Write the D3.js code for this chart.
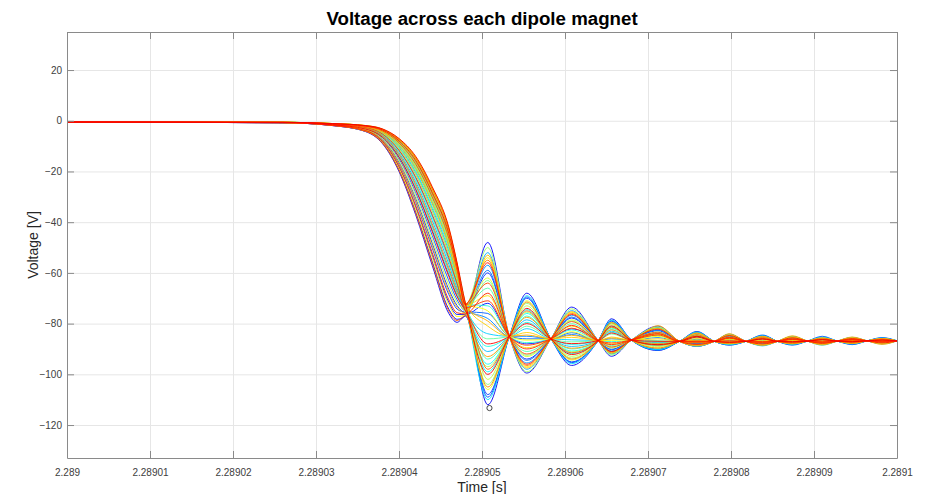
<!DOCTYPE html>
<html>
<head>
<meta charset="utf-8">
<title>Voltage across each dipole magnet</title>
<script src="https://d3js.org/d3.v7.min.js"></script>
<style>
  body { margin: 0; background: #fff; }
  svg { display: block; font-family: "Liberation Sans", Arial, sans-serif; }
</style>
</head>
<body>
<script>
// time is kept in microseconds after t = 2.289 s
const tickTimes = [0, 10, 20, 30, 40, 50, 60, 70, 80, 90, 100];
const tickLabels = ["2.289", "2.28901", "2.28902", "2.28903", "2.28904", "2.28905",
                    "2.28906", "2.28907", "2.28908", "2.28909", "2.2891"];
const voltTicks = [-120, -100, -80, -60, -40, -20, 0, 20];

const startValue = -0.5;   // V at t = 0

// magnet number of each trace (sets its colour)
const magnetIndex = [1, 30, 2, 5, 41, 26, 4, 43, 7, 36, 22, 19, 11, 13, 40, 15, 10, 12, 34, 14,
                     20, 16, 24, 21, 18, 23, 27, 32, 37, 44, 38, 3, 33, 6, 9, 8, 28, 17, 31, 39,
                     35, 42, 25, 29];

// drop phase: sample times and one row of voltages per trace
const dropTimes = [26, 32, 36, 38, 40, 42, 44, 46, 47, 48];
const dropValues = [
  [-0.8, -1.9, -4.3, -9.0, -20.0, -37.0, -57.0, -76.0, -79.5, -77.0],
  [-0.8, -1.8, -4.1, -8.4, -18.7, -34.7, -53.9, -72.6, -77.2, -76.5],
  [-0.8, -1.9, -4.2, -8.7, -19.4, -35.9, -55.5, -74.3, -78.3, -76.8],
  [-0.8, -1.7, -3.8, -7.7, -17.1, -31.9, -50.2, -68.5, -74.3, -75.9],
  [-0.8, -1.8, -3.9, -8.1, -17.9, -33.3, -52.0, -70.6, -75.7, -76.2],
  [-0.7, -1.6, -3.5, -7.1, -15.7, -29.4, -46.8, -64.8, -71.7, -75.4],
  [-0.7, -1.7, -3.6, -7.4, -16.4, -30.6, -48.3, -66.5, -72.9, -75.6],
  [-0.7, -1.6, -3.3, -6.5, -14.4, -27.1, -43.7, -61.4, -69.4, -74.9],
  [-0.7, -1.6, -3.4, -6.8, -15.1, -28.3, -45.2, -63.1, -70.6, -75.1],
  [-0.7, -1.5, -3.0, -5.9, -13.1, -24.8, -40.6, -58.0, -67.0, -74.4],
  [-0.7, -1.5, -3.1, -6.2, -13.8, -26.0, -42.1, -59.7, -68.2, -74.6],
  [-0.7, -1.4, -2.8, -5.5, -12.1, -23.0, -38.1, -55.3, -65.2, -74.0],
  [-0.7, -1.4, -2.9, -5.7, -12.6, -23.9, -39.3, -56.6, -66.1, -74.2],
  [-0.7, -1.3, -2.6, -5.0, -11.0, -21.1, -35.6, -52.5, -63.3, -73.6],
  [-0.7, -1.4, -2.7, -5.2, -11.6, -22.1, -36.9, -53.9, -64.2, -73.8],
  [-0.6, -1.3, -2.5, -4.7, -10.3, -19.8, -33.8, -50.5, -61.9, -73.3],
  [-0.7, -1.3, -2.6, -4.8, -10.6, -20.4, -34.7, -51.5, -62.6, -73.4],
  [-0.6, -1.3, -2.4, -4.3, -9.5, -18.4, -31.9, -48.5, -60.5, -73.0],
  [-0.6, -1.3, -2.4, -4.5, -9.9, -19.1, -32.8, -49.5, -61.2, -73.1],
  [-0.6, -1.2, -2.2, -4.0, -8.8, -17.2, -30.3, -46.8, -59.3, -72.7],
  [-0.6, -1.2, -2.3, -4.1, -9.1, -17.7, -31.0, -47.4, -59.8, -72.8],
  [-0.6, -1.2, -2.1, -3.8, -8.3, -16.3, -29.1, -45.4, -58.4, -72.5],
  [-0.6, -1.2, -2.2, -3.9, -8.6, -16.8, -29.7, -46.1, -58.8, -72.6],
  [-0.6, -1.1, -2.0, -3.5, -7.8, -15.4, -27.9, -44.0, -57.4, -72.3],
  [-0.6, -1.2, -2.1, -3.7, -8.0, -15.8, -28.5, -44.7, -57.9, -72.4],
  [-0.6, -1.1, -2.0, -3.4, -7.5, -14.9, -27.2, -43.4, -56.9, -72.2],
  [-0.6, -1.1, -2.0, -3.5, -7.7, -15.2, -27.6, -43.7, -57.2, -72.3],
  [-0.6, -1.1, -1.9, -3.3, -7.3, -14.5, -26.6, -42.7, -56.5, -72.1],
  [-0.6, -1.1, -2.0, -3.4, -7.4, -14.7, -26.9, -43.0, -56.7, -72.2],
  [-0.6, -1.1, -1.9, -3.2, -7.0, -14.0, -26.0, -42.0, -56.0, -72.0],
  [-0.8, -1.9, -4.2, -8.8, -19.6, -36.3, -56.1, -75.0, -78.8, -76.9],
  [-0.8, -1.8, -4.0, -8.2, -18.3, -34.0, -53.0, -71.6, -76.4, -76.4],
  [-0.7, -1.7, -3.7, -7.6, -16.8, -31.3, -49.3, -67.5, -73.6, -75.8],
  [-0.7, -1.5, -3.2, -6.4, -14.2, -26.7, -43.1, -60.7, -68.9, -74.8],
  [-0.7, -1.5, -3.1, -6.1, -13.5, -25.5, -41.5, -59.0, -67.8, -74.5],
  [-0.7, -1.4, -2.8, -5.3, -11.8, -22.5, -37.5, -54.6, -64.7, -73.9],
  [-0.7, -1.3, -2.6, -4.9, -10.9, -20.9, -35.3, -52.2, -63.1, -73.5],
  [-0.6, -1.3, -2.4, -4.4, -9.6, -18.6, -32.2, -48.8, -60.7, -73.0],
  [-0.6, -1.2, -2.3, -4.2, -9.2, -17.9, -31.3, -47.8, -60.0, -72.9],
  [-0.6, -1.2, -2.2, -4.0, -8.7, -17.0, -30.0, -46.4, -59.1, -72.7],
  [-0.6, -1.2, -2.1, -3.7, -8.2, -16.1, -28.8, -45.1, -58.1, -72.5],
  [-0.6, -1.2, -2.1, -3.6, -7.9, -15.6, -28.2, -44.4, -57.6, -72.4],
  [-0.6, -1.1, -2.0, -3.4, -7.4, -14.7, -26.9, -43.0, -56.7, -72.2],
  [-0.6, -1.1, -1.9, -3.3, -7.1, -14.2, -26.3, -42.3, -56.2, -72.1]
];

// ringing: the extremes of each trace and the crossing points they share
const swingTimes = [50.7, 55.4, 60.8, 65.6, 71.2, 75.9, 79.8, 83.8, 87.4, 91.0, 94.6, 98.2];
const nodeTimes  = [53.3, 58.3, 64.0, 68.0, 73.8, 78.0, 81.8, 85.6, 89.2, 92.8, 96.4, 100];
const nodeValues = [-85.0, -86.0, -86.7, -86.5, -87.0, -87.0, -87.0, -87.0, -86.9, -86.9, -86.8, -86.8];
const swingValues = [
  [-112, -68.0, -96.5, -78.1, -90.6, -83.1, -88.4, -84.7, -88.3, -85.4, -88.1, -85.7],
  [-54, -97.0, -75.6, -91.5, -81.9, -88.3, -84.6, -88.2, -85.4, -88.0, -85.8, -87.7],
  [-48, -99.5, -73.5, -92.9, -81.0, -88.9, -84.2, -88.5, -85.1, -88.2, -85.5, -87.9],
  [-108, -70.0, -95.1, -79.1, -90.0, -83.5, -88.1, -84.9, -88.1, -85.5, -87.9, -85.8],
  [-68, -90.0, -80.7, -88.3, -84.0, -87.1, -85.5, -87.3, -86.1, -87.3, -86.3, -87.2],
  [-102, -73.0, -92.9, -80.4, -89.1, -84.0, -87.7, -85.3, -87.8, -85.8, -87.7, -86.0],
  [-60, -94.0, -77.8, -90.1, -82.8, -87.8, -85.0, -87.8, -85.7, -87.7, -86.0, -87.5],
  [-88, -80.0, -87.9, -83.7, -87.0, -85.3, -86.8, -86.1, -87.1, -86.4, -87.1, -86.5],
  [-76, -86.0, -83.6, -79.5, -90.5, -83.5, -88.5, -84.5, -88.5, -85.0, -88.3, -85.5],
  [-105, -71.5, -94.0, -79.7, -89.6, -83.8, -87.9, -85.1, -87.9, -85.7, -87.8, -85.9],
  [-63, -92.5, -78.9, -89.4, -83.3, -87.5, -85.2, -87.6, -85.9, -87.6, -86.1, -87.4],
  [-94, -77.0, -90.0, -82.3, -87.9, -84.7, -87.2, -85.8, -87.4, -86.2, -87.4, -86.3],
  [-52, -98.0, -74.9, -91.9, -81.6, -88.5, -84.5, -88.3, -85.3, -88.1, -85.7, -87.8],
  [-84, -82.0, -86.4, -92.0, -81.5, -89.0, -84.2, -88.8, -85.0, -88.5, -85.4, -88.0],
  [-71, -88.5, -81.8, -87.6, -84.5, -86.8, -85.7, -87.1, -86.3, -87.2, -86.5, -87.1],
  [-99, -74.5, -91.8, -81.1, -88.7, -84.3, -87.5, -85.5, -87.6, -86.0, -87.6, -86.1],
  [-57, -95.5, -76.7, -90.8, -82.4, -88.1, -84.8, -88.0, -85.6, -87.8, -85.9, -87.6],
  [-91, -78.5, -89.0, -83.0, -87.5, -85.0, -87.0, -85.9, -87.3, -86.3, -87.2, -86.4],
  [-79, -84.5, -84.6, -85.7, -80.8, -88.8, -84.0, -88.6, -84.8, -88.4, -85.3, -88.2],
  [-110, -69.0, -95.8, -78.6, -90.3, -83.3, -88.3, -84.8, -88.2, -85.4, -88.0, -85.7],
  [-66, -91.0, -80.0, -88.7, -83.7, -87.3, -85.4, -87.4, -86.0, -87.4, -86.2, -87.3],
  [-96, -76.0, -90.8, -81.8, -88.2, -84.6, -87.3, -85.6, -87.5, -86.1, -87.4, -86.2],
  [-50, -99.0, -74.2, -92.4, -81.3, -88.7, -84.4, -88.4, -85.2, -88.1, -85.6, -87.8],
  [-86, -81.0, -87.2, -84.1, -86.7, -85.5, -86.7, -86.2, -87.0, -86.5, -87.0, -86.6],
  [-73, -87.5, -82.5, -87.1, -84.7, -86.6, -85.8, -87.0, -86.4, -87.1, -86.5, -87.0],
  [-104, -72.0, -93.6, -80.0, -88.0, -85.0, -87.5, -86.0, -87.3, -86.3, -87.2, -86.5],
  [-62, -93.0, -78.5, -89.6, -84.5, -87.3, -86.0, -87.3, -86.3, -87.2, -86.5, -87.0],
  [-81, -83.5, -85.4, -85.3, -86.0, -85.9, -86.4, -86.5, -86.7, -86.8, -86.8, -86.8],
  [-55, -96.5, -76.0, -91.3, -84.0, -87.6, -85.8, -87.4, -86.2, -87.3, -86.4, -87.1],
  [-100, -74.0, -92.2, -80.9, -88.3, -85.0, -87.4, -86.0, -87.3, -86.3, -87.2, -86.5],
  [-98, -75.0, -91.5, -81.4, -88.5, -84.4, -87.5, -85.5, -87.6, -86.0, -87.5, -86.2],
  [-72, -88.0, -82.1, -91.0, -81.8, -88.9, -84.3, -88.5, -85.1, -88.2, -85.6, -87.9],
  [-53, -97.5, -75.3, -91.7, -81.8, -88.4, -84.5, -88.2, -85.3, -88.0, -85.7, -87.7],
  [-109, -69.5, -95.4, -78.8, -90.2, -83.4, -88.2, -84.9, -88.1, -85.5, -87.9, -85.8],
  [-78, -85.0, -84.3, -86.0, -85.5, -86.2, -86.2, -86.7, -86.6, -86.9, -86.7, -86.9],
  [-59, -94.5, -77.4, -90.3, -82.6, -87.9, -84.9, -87.9, -85.6, -87.7, -86.0, -87.5],
  [-106, -71.0, -94.4, -79.5, -89.7, -83.7, -88.0, -85.0, -88.0, -85.6, -87.8, -85.9],
  [-89, -79.5, -88.2, -83.4, -87.2, -85.2, -86.9, -86.1, -87.1, -86.5, -87.1, -86.6],
  [-69, -89.5, -81.0, -88.0, -84.1, -87.0, -85.6, -87.2, -86.2, -87.2, -86.4, -87.1],
  [-64, -92.0, -79.2, -89.2, -83.4, -87.4, -85.3, -87.5, -86.0, -87.4, -86.3, -87.2],
  [-93, -77.5, -89.7, -82.5, -87.8, -84.8, -87.1, -85.8, -87.3, -86.3, -87.2, -86.4],
  [-56, -96.0, -76.4, -91.0, -82.2, -88.2, -84.7, -88.0, -85.6, -87.8, -85.9, -87.6],
  [-97, -75.5, -91.1, -81.6, -88.4, -84.5, -87.4, -85.6, -87.5, -86.1, -87.4, -86.3],
  [-75, -86.5, -83.2, -86.6, -85.0, -86.5, -86.0, -86.9, -86.5, -87.0, -86.6, -86.9]
];

const troughMarker = [50.9, -113.3];   // small circle under the deepest trough

// ---------------- layout ----------------
const W = 932, H = 494;
const margin = {top: 32, right: 35, bottom: 36, left: 67};
const w = W - margin.left - margin.right,
      h = H - margin.top - margin.bottom;

const svg = d3.select("body").append("svg")
    .attr("width", W).attr("height", H);

svg.append("rect").attr("width", W).attr("height", H).attr("fill", "#fff");

const g = svg.append("g")
    .attr("transform", "translate(" + margin.left + "," + margin.top + ")");

const x = d3.scaleLinear().domain([0, 100]).range([0, w]);
const y = d3.scaleLinear().domain([-133, 35]).range([h, 0]);

// grid
g.append("g").attr("class", "grid")
    .attr("transform", "translate(0," + h + ")")
    .call(d3.axisBottom(x).tickValues(tickTimes).tickSize(-h).tickFormat(""));
g.append("g").attr("class", "grid")
    .call(d3.axisLeft(y).tickValues(voltTicks).tickSize(-w).tickFormat(""));
g.selectAll(".grid .domain").remove();
g.selectAll(".grid line").attr("stroke", "#e6e6e6").attr("stroke-width", 1);

// jet colour map, trimmed of its darkest ends
function jet(t) {
  const c = v => Math.round(255 * Math.max(0, Math.min(1, v)));
  return "rgb(" + c(1.5 - Math.abs(4 * t - 3)) + "," + c(1.5 - Math.abs(4 * t - 2)) + "," +
         c(1.5 - Math.abs(4 * t - 1)) + ")";
}
const colorPos = d3.scaleLinear().domain(d3.extent(magnetIndex)).range([0.11, 0.89]);

// build each trace from the arrays above
const traces = dropValues.map(function(drop, i) {
  const pts = [[0, startValue]];
  dropTimes.forEach(function(t, k) { pts.push([t, drop[k]]); });
  swingTimes.forEach(function(t, k) {
    pts.push([t, swingValues[i][k]]);
    pts.push([nodeTimes[k], nodeValues[k]]);
  });
  return {magnet: magnetIndex[i], pts: pts};
}).sort((a, b) => a.magnet - b.magnet);   // last magnets drawn on top

g.append("clipPath").attr("id", "plotclip")
  .append("rect").attr("width", w).attr("height", h);

const line = d3.line()
    .x(d => x(d[0]))
    .y(d => y(d[1]))
    .curve(d3.curveMonotoneX);

g.append("g").attr("clip-path", "url(#plotclip)")
  .selectAll("path")
  .data(traces)
  .join("path")
    .attr("fill", "none")
    .attr("stroke", d => jet(colorPos(d.magnet)))
    .attr("stroke-width", 0.9)
    .attr("d", d => line(d.pts));

g.append("circle")
    .attr("cx", x(troughMarker[0]))
    .attr("cy", y(troughMarker[1]))
    .attr("r", 2.6)
    .attr("fill", "none")
    .attr("stroke", "#333")
    .attr("stroke-width", 0.9);

// box with inward ticks on all four sides
const axisColor = "#8a8a8a";
const xAxis = g.append("g")
    .attr("transform", "translate(0," + h + ")")
    .call(d3.axisBottom(x).tickValues(tickTimes).tickSizeInner(-7).tickSizeOuter(0)
          .tickPadding(11).tickFormat((d, i) => tickLabels[i]));
const yAxis = g.append("g")
    .call(d3.axisLeft(y).tickValues(voltTicks).tickSizeInner(-7).tickSizeOuter(0)
          .tickPadding(5));
const topAxis = g.append("g")
    .call(d3.axisTop(x).tickValues(tickTimes).tickSizeInner(-7).tickSizeOuter(0).tickFormat(""));
const rightAxis = g.append("g")
    .attr("transform", "translate(" + w + ",0)")
    .call(d3.axisRight(y).tickValues(voltTicks).tickSizeInner(-7).tickSizeOuter(0).tickFormat(""));

[xAxis, yAxis, topAxis, rightAxis].forEach(function(a) {
  a.select(".domain").attr("stroke", axisColor);
  a.selectAll(".tick line").attr("stroke", axisColor);
  a.selectAll(".tick text")
    .attr("fill", "#404040")
    .style("font-size", "10px")
    .style("font-family", "'Liberation Sans', Arial, sans-serif");
});

// titles
svg.append("text")
    .attr("x", margin.left + w / 2).attr("y", 25)
    .attr("text-anchor", "middle")
    .style("font-size", "18.7px").style("font-weight", "bold")
    .attr("fill", "#000")
    .text("Voltage across each dipole magnet");

svg.append("text")
    .attr("x", margin.left + w / 2).attr("y", 492)
    .attr("text-anchor", "middle")
    .style("font-size", "14px")
    .attr("fill", "#262626")
    .text("Time [s]");

svg.append("text")
    .attr("transform", "translate(38," + (margin.top + h / 2) + ") rotate(-90)")
    .attr("text-anchor", "middle")
    .style("font-size", "14px")
    .attr("fill", "#262626")
    .text("Voltage [V]");
</script>
</body>
</html>
